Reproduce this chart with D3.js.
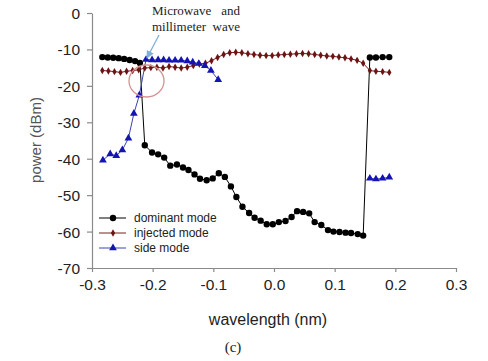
<!DOCTYPE html>
<html><head><meta charset="utf-8">
<script src="https://cdn.jsdelivr.net/npm/d3@7"></script>
<style>body{margin:0;background:#fff}svg{display:block}</style>
</head><body>
<svg id="chart" width="488" height="361"></svg>
<script>
// ---- data ----
const xTicks = [-0.3,-0.2,-0.1,0.0,0.1,0.2,0.3];
const yTicks = [0,-10,-20,-30,-40,-50,-60,-70];
const seriesNames = ["dominant mode","injected mode","side mode"];

const dominantX = [-0.283,-0.274,-0.265,-0.256,-0.247,-0.238,-0.229,-0.221,
  -0.213,-0.201,-0.191,-0.181,-0.171,-0.160,-0.150,-0.141,-0.131,-0.122,-0.111,-0.101,-0.091,-0.081,
  -0.071,-0.062,-0.052,-0.041,-0.032,-0.022,-0.012,-0.002,0.008,0.019,0.029,0.038,0.048,0.058,
  0.067,0.078,0.089,0.098,0.108,0.118,0.127,0.138,0.147,
  0.158,0.168,0.179,0.190];
const dominantY = [-12.1,-12.2,-12.3,-12.4,-12.6,-12.9,-13.2,-13.7,
  -36.3,-38.3,-38.8,-39.7,-41.9,-41.6,-42.4,-43.1,-44.3,-45.5,-45.9,-45.4,-44.0,-45.0,
  -47.6,-50.5,-53.2,-54.9,-56.2,-57.0,-58.0,-58.0,-57.4,-57.1,-56.0,-54.4,-54.6,-55.0,
  -57.4,-58.2,-59.6,-60.0,-60.1,-60.3,-60.4,-60.7,-61.1,
  -12.2,-12.2,-12.1,-12.1];

const injectedX = [-0.283,-0.273,-0.263,-0.253,-0.243,-0.233,-0.223,-0.213,-0.203,-0.193,
  -0.183,-0.173,-0.163,-0.153,-0.143,-0.133,-0.123,-0.113,-0.103,-0.093,
  -0.083,-0.073,-0.063,-0.053,-0.043,-0.033,-0.023,-0.013,-0.003,0.007,
  0.017,0.027,0.037,0.047,0.057,0.067,0.077,0.087,0.097,0.107,
  0.117,0.127,0.137,0.147,0.158,0.168,0.179,0.190];
const injectedY = [-15.8,-15.9,-16.1,-16.3,-16.0,-15.8,-15.6,-15.1,-15.0,-14.9,
  -15.1,-14.7,-14.9,-15.1,-14.9,-14.4,-14.0,-13.8,-13.1,-12.2,
  -11.4,-10.9,-10.8,-10.9,-11.2,-11.4,-11.6,-11.7,-11.7,-11.5,
  -11.4,-11.3,-11.2,-11.1,-11.2,-11.4,-11.6,-11.8,-11.9,-12.1,
  -12.3,-12.6,-13.0,-13.8,-15.8,-16.0,-16.1,-16.3];

const sideX = [-0.282,-0.270,-0.260,-0.250,-0.240,-0.231,-0.222,
  -0.211,-0.201,-0.191,-0.182,-0.173,-0.163,-0.153,-0.143,-0.134,-0.124,-0.114,-0.104,-0.092,
  null,0.158,0.168,0.179,0.190];
const sideY = [-40.4,-38.7,-39.2,-37.6,-34.4,-27.6,-22.6,
  -12.8,-12.9,-12.9,-12.9,-13.0,-13.0,-13.0,-13.2,-13.5,-13.9,-14.5,-15.8,-18.3,
  null,-45.4,-45.6,-45.4,-45.1];

// ---- chart ----
const svg = d3.select("#chart");
const x = d3.scaleLinear().domain([-0.3,0.3]).range([92,456]);
const y = d3.scaleLinear().domain([-70,0]).range([268,13]);

const axisColor = "#8a8a8a";
const xAxis = svg.append("g").attr("transform","translate(0,268)")
  .call(d3.axisBottom(x).tickValues(xTicks).tickFormat(d=>d.toFixed(1)).tickSize(4).tickSizeOuter(0));
const yAxis = svg.append("g").attr("transform","translate(92,0)")
  .call(d3.axisLeft(y).tickValues(yTicks).tickFormat(d=>String(d)).tickSize(5).tickSizeOuter(0));
[xAxis,yAxis].forEach(g=>{
  g.selectAll("path,line").attr("stroke",axisColor).attr("stroke-width",1.2);
  g.selectAll("text").attr("fill","#222").style("font-family","Liberation Sans, Arial, sans-serif").style("font-size","15.5px");
});
xAxis.selectAll("text").attr("dy","0.95em");
yAxis.selectAll("text").attr("dx","-4").attr("dy","0.35em");

svg.append("text").attr("x",268).attr("y",325).attr("text-anchor","middle")
  .style("font-family","Liberation Sans, Arial, sans-serif").style("font-size","16px").attr("fill","#222")
  .text("wavelength (nm)");
svg.append("text").attr("transform","translate(41,140) rotate(-90)").attr("text-anchor","middle")
  .style("font-family","Liberation Sans, Arial, sans-serif").style("font-size","15px").attr("fill","#555")
  .text("power (dBm)");
svg.append("text").attr("x",233).attr("y",352).attr("text-anchor","middle")
  .style("font-family","Liberation Serif, Times New Roman, serif").style("font-size","15px").attr("fill","#222")
  .text("(c)");

function pts(xs,ys){return xs.map((v,i)=>({x:v,y:ys[i]}));}
const line = d3.line().defined(d=>d.x!==null&&d.y!==null).x(d=>x(d.x)).y(d=>y(d.y));

const series = [
  {name:seriesNames[0], data:pts(dominantX,dominantY), color:"#000", line:"#000", shape:"circle"},
  {name:seriesNames[1], data:pts(injectedX,injectedY), color:"#6b1414", line:"#7a1e1e", shape:"diamond"},
  {name:seriesNames[2], data:pts(sideX,sideY), color:"#1414b4", line:"#3a44b0", shape:"triangle"}
];
const symbolFor = {
  circle: d3.symbol().type(d3.symbolCircle).size(32),
  diamond: d3.symbol().type(d3.symbolDiamond).size(16),
  triangle: d3.symbol().type(d3.symbolTriangle).size(26)
};

series.forEach(s=>{
  svg.append("path").datum(s.data).attr("d",line).attr("fill","none")
    .attr("stroke",s.line).attr("stroke-width",1);
});
series.forEach(s=>{
  svg.append("g").selectAll("path").data(s.data.filter(d=>d.x!==null)).join("path")
    .attr("transform",d=>`translate(${x(d.x)},${y(d.y)})`)
    .attr("d",symbolFor[s.shape]()).attr("fill",s.color);
});

// legend
const lg = svg.append("g");
series.forEach((s,i)=>{
  const cy = 218 + i*15;
  lg.append("line").attr("x1",99).attr("x2",126).attr("y1",cy).attr("y2",cy).attr("stroke",s.line).attr("stroke-width",1);
  lg.append("path").attr("transform",`translate(113,${cy})`).attr("d",symbolFor[s.shape]()).attr("fill",s.color);
  lg.append("text").attr("x",134).attr("y",cy).attr("dy","0.35em")
    .style("font-family","Liberation Sans, Arial, sans-serif").style("font-size","12px").attr("fill","#222")
    .text(s.name);
});

// annotation
const defs = svg.append("defs");
defs.append("marker").attr("id","arr").attr("viewBox","0 0 10 10").attr("refX",9).attr("refY",5)
  .attr("markerWidth",6).attr("markerHeight",6).attr("orient","auto")
  .append("path").attr("d","M0,0L10,5L0,10z").attr("fill","#7fb0dc");
svg.append("line").attr("x1",159).attr("y1",35).attr("x2",147).attr("y2",58)
  .attr("stroke","#7fb0dc").attr("stroke-width",1.3).attr("marker-end","url(#arr)");
svg.append("ellipse").attr("cx",146.5).attr("cy",81).attr("rx",17.5).attr("ry",16)
  .attr("fill","none").attr("stroke","#d69090").attr("stroke-width",1.3);
const ann = svg.append("g").style("font-family","Liberation Serif, Times New Roman, serif").style("font-size","13px").attr("fill","#222");
ann.append("text").attr("x",152).attr("y",15).text("Microwave");
ann.append("text").attr("x",240).attr("y",15).attr("text-anchor","end").text("and");
ann.append("text").attr("x",152).attr("y",31).text("millimeter");
ann.append("text").attr("x",240).attr("y",31).attr("text-anchor","end").text("wave");
</script>
</body></html>
